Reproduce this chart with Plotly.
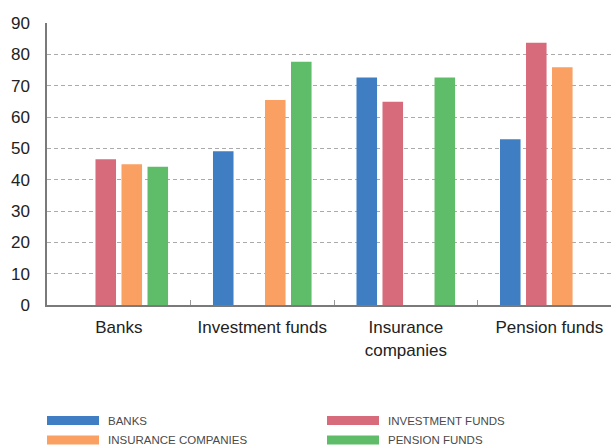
import plotly.graph_objects as go

categories = ["Banks", "Investment funds", "Insurance<br>companies", "Pension funds"]
series_names = ["BANKS", "INVESTMENT FUNDS", "INSURANCE COMPANIES", "PENSION FUNDS"]
banks = [None, 49.1, 72.6, 52.9]
investment_funds = [46.5, None, 64.9, 83.7]
insurance_companies = [44.9, 65.4, None, 75.9]
pension_funds = [44.1, 77.6, 72.6, None]
colors = ["#407EC3", "#D86B7B", "#F9A062", "#5FBD69"]
y_ticks = [0, 10, 20, 30, 40, 50, 60, 70, 80, 90]

fig = go.Figure()
for name, vals, col in zip(series_names, [banks, investment_funds, insurance_companies, pension_funds], colors):
    fig.add_trace(go.Bar(x=categories, y=vals, name=name, marker=dict(color=col, line=dict(width=0)),
                         showlegend=False))

W, H = 611, 447
L, T, B = 47, 23, 142
PW, PH = W - L, H - T - B

fig.update_layout(
    width=W, height=H,
    margin=dict(l=L, r=0, t=T, b=B),
    plot_bgcolor="white", paper_bgcolor="white",
    barmode="group", bargap=0.275, bargroupgap=0.21,
    font=dict(family="Liberation Sans, Arial, sans-serif", size=17, color="#222"),
)
fig.update_xaxes(
    range=[-0.5, 3.43], showline=True, linecolor="#7a7a7a", linewidth=2,
    ticks="inside", tickson="boundaries", ticklen=5, tickcolor="#999", tickwidth=1,
    showgrid=False, ticklabelstandoff=6, tickfont=dict(size=17, color="#222"),
)
fig.update_yaxes(
    range=[0, 90], tickvals=y_ticks, showline=True, linecolor="#7a7a7a", linewidth=1.5,
    showgrid=True, gridcolor="#aaaaaa", griddash="4px,3px", gridwidth=1,
    zeroline=False, ticks="", ticklabelstandoff=12, tickfont=dict(size=17, color="#222"),
)

def px_x(x):
    return (x - L) / PW

def px_y(y):
    return (H - B - y) / PH

# custom legend (two columns, two rows)
legend_pos = [(47, 416), (327, 416), (47, 435.5), (327, 435.5)]
for (lx, ly), idx in zip(legend_pos, range(4)):
    fig.add_shape(type="rect", xref="paper", yref="paper",
                  x0=px_x(lx), x1=px_x(lx + 52),
                  y0=px_y(ly + 9), y1=px_y(ly),
                  fillcolor=colors[idx], line=dict(width=0))
    fig.add_annotation(xref="paper", yref="paper",
                       x=px_x(lx + 59), y=px_y(ly + 4.5),
                       xanchor="left", yanchor="middle", showarrow=False,
                       text=series_names[idx],
                       font=dict(family="Liberation Sans, Arial, sans-serif", size=11.5, color="#4a4a4a"))

fig.write_html("out.html")
